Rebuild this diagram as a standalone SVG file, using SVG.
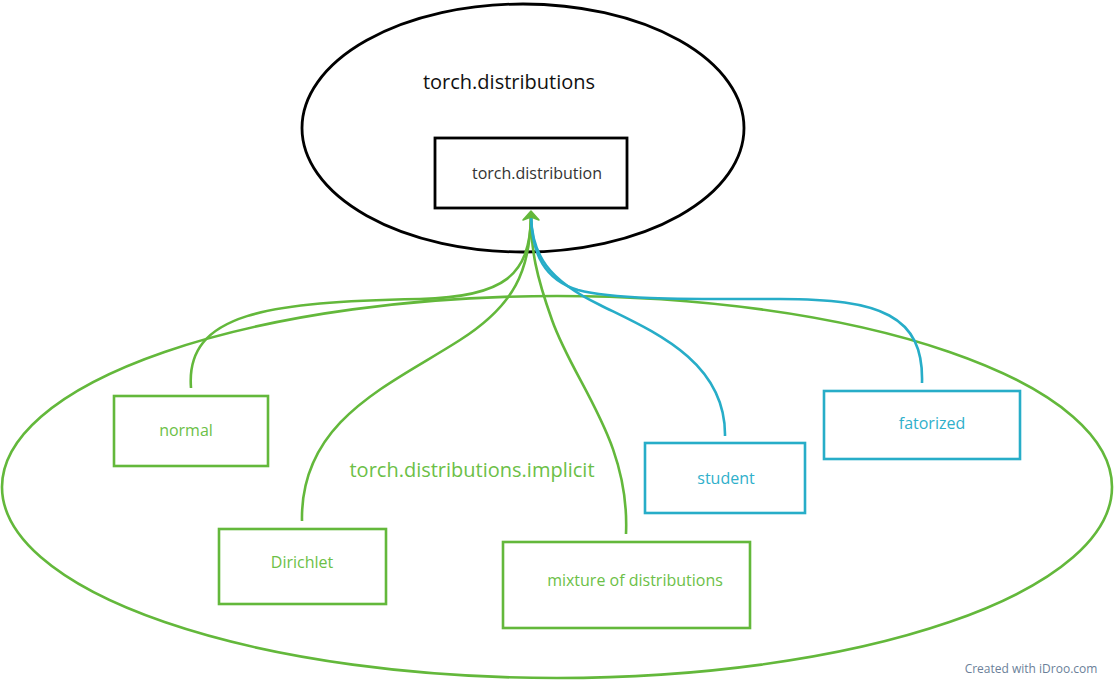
<svg xmlns="http://www.w3.org/2000/svg" width="1114" height="681" viewBox="0 0 1114 681">
<style>
text{font-family:"Open Sans","Noto Sans","DejaVu Sans",sans-serif;}
.g{fill:none;stroke:#63b83b;stroke-width:2.6;}
.b{fill:none;stroke:#27adc8;stroke-width:2.6;}
.k{fill:none;stroke:#000;stroke-width:2.8;}
.gt{fill:#6cbf47;font-size:16px;text-anchor:middle;}
.bt{fill:#2fb0cb;font-size:16px;text-anchor:middle;}
</style>
<rect width="1114" height="681" fill="#fff"/>
<g id="implicit">
<ellipse class="g" cx="557" cy="487" rx="555" ry="191"/>
<text x="472" y="477" fill="#6cbf47" font-size="20" text-anchor="middle">torch.distributions.implicit</text>
</g>
<g id="distributions">
<ellipse class="k" cx="523" cy="128" rx="221" ry="124"/>
<text x="509" y="89" fill="#111" font-size="20" text-anchor="middle">torch.distributions</text>
</g>
<g id="distribution">
<rect class="k" x="435" y="138" width="192" height="70" fill="#fff"/>
<text x="537" y="179" fill="#333" font-size="16" text-anchor="middle">torch.distribution</text>
</g>
<g id="connectors">
<path class="g" d="M191,388 C185,312 270,302 420,299 C505,297 530,275 531,216"/>
<path class="g" d="M302,521 C300,420 390,385 460,340 C515,305 530,270 531,216"/>
<path class="g" d="M626,534 C630,440 575,385 552,320 C536,275 531,250 531,216"/>
<path class="b" d="M725,436 C726,360 650,330 600,305 C548,280 532,255 531,216"/>
<path class="b" d="M922,383 C924,315 880,299 780,299 C690,299 615,300 578,290 C545,280 532,255 531,216"/>
<path d="M523,220 L531,211 L539,220 L531,217 Z" fill="#63b83b" stroke="#63b83b" stroke-width="1.5" stroke-linejoin="round"/>
</g>
<g id="normal">
<rect class="g" x="114" y="396" width="154" height="70"/>
<text class="gt" x="186" y="436">normal</text>
</g>
<g id="dirichlet">
<rect class="g" x="219" y="529" width="167" height="75"/>
<text class="gt" x="302" y="568">Dirichlet</text>
</g>
<g id="mixture">
<rect class="g" x="503" y="542" width="247" height="86"/>
<text class="gt" x="635" y="586">mixture of distributions</text>
</g>
<g id="student">
<rect class="b" x="645" y="443" width="160" height="70"/>
<text class="bt" x="726" y="484">student</text>
</g>
<g id="fatorized">
<rect class="b" x="824" y="391" width="196" height="68"/>
<text class="bt" x="932" y="429">fatorized</text>
</g>
<text x="1031" y="673" fill="#6b7f99" font-size="12" text-anchor="middle" font-family="'Open Sans',sans-serif">Created with iDroo.com</text>
</svg>
